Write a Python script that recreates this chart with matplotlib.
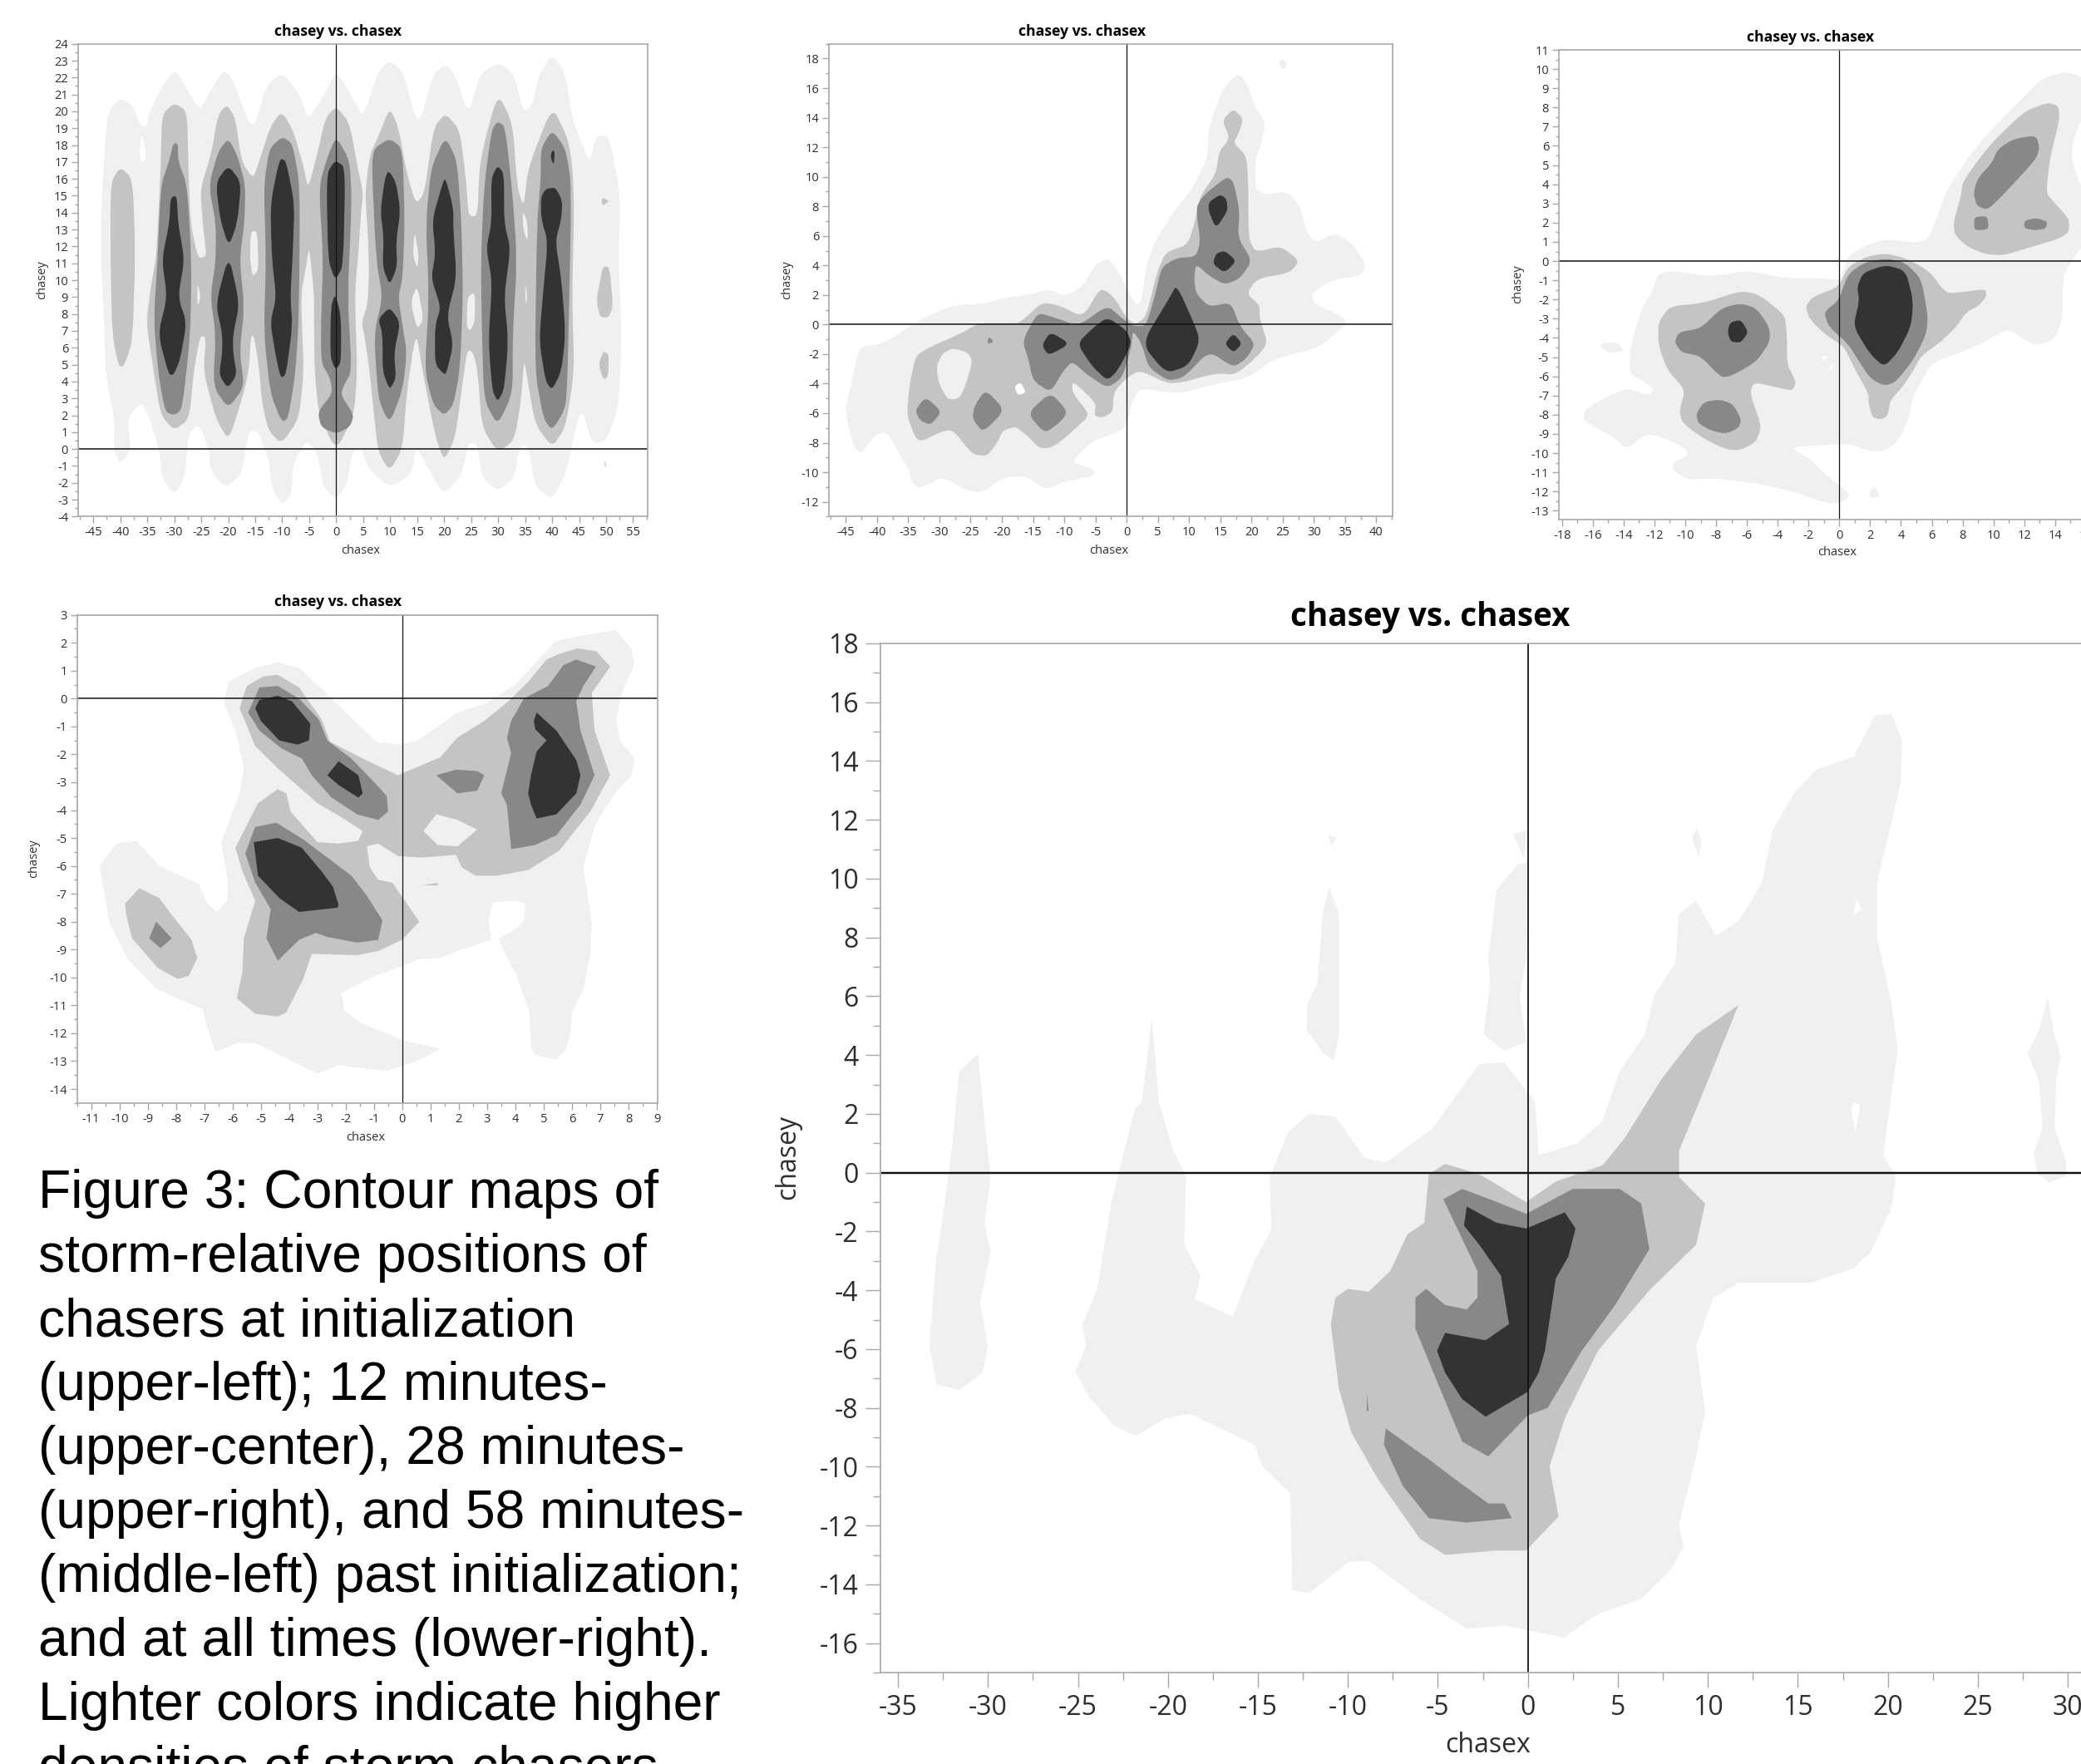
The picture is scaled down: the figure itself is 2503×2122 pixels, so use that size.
import matplotlib
matplotlib.use("Agg")
import matplotlib.pyplot as plt
from matplotlib.patches import PathPatch
from matplotlib.path import Path
from matplotlib.ticker import MultipleLocator

W, H = 2503, 2122
SHADE_A = "#f0f0f0"
SHADE_B = "#c4c4c4"
SHADE_C = "#888888"
SHADE_D = "#333333"
WHITE = "#ffffff"
FRAME = "#a8a8a8"
INK = "#2e2e2e"

CAPTION = [
    "Figure 3: Contour maps of",
    "storm-relative positions of",
    "chasers at initialization",
    "(upper-left); 12 minutes-",
    "(upper-center), 28 minutes-",
    "(upper-right), and 58 minutes-",
    "(middle-left) past initialization;",
    "and at all times (lower-right).",
    "Lighter colors indicate higher",
    "densities of storm chasers.",
]

# contour outlines, (chasex, chasey)
# panel 1: initialization
P1_A = [[(-40,20.8),(-37.8,20.4),(-36,19),(-35,19.2),(-34.6,20),(-32.2,21.5),(-29.9,22.5),(-28,21.5),(-25.2,20),(-23.2,21.3),(-20.7,22.5),(-19,21.8),(-16.2,19.3),(-15,19.2),(-13,21.5),(-10,22.3),(-6.9,21.1),(-5.2,19.5),(-2.4,20.9),(0,22.4),(2.9,20.9),(5,19.6),(7.8,22.4),(9.9,23),(12.3,22.4),(15.2,19),(18,22.2),(20.2,22.8),(22,22.2),(24.5,19.8),(26.6,22.2),(29.9,22.9),(33,22.2),(34.7,19.9),(36.4,20.4),(37.6,22.2),(40,23.4),(42.5,22.2),(43.7,19.6),(45.8,17.8),(47,17),(48.2,18.6),(50.6,18.5),(52.7,15),(52.3,11.2),(52.9,6.8),(52.3,2.4),(50,.5),(47.4,.3),(45.3,2.6),(42.5,-1.5),(40,-3),(36.8,-2.2),(35.6,.2),(34,.2),(33,-1.7),(29.9,-2.5),(27,-1.7),(26.2,.3),(24.5,.4),(23.3,-1.5),(20,-2.7),(18,-1.7),(14.8,.2),(14,-1.5),(9.9,-2.3),(5.8,-1.1),(4.6,.2),(2.9,-.2),(2.1,-2),(0,-3),(-2.4,-2.2),(-3.6,-.1),(-5.6,.5),(-8,-.9),(-8.3,-2.7),(-10,-3.3),(-11.9,-2.4),(-12.6,-.4),(-14.6,1.1),(-16.2,1.1),(-17.5,-1.5),(-20.5,-2.3),(-23.2,-1.3),(-23.6,0),(-25.4,1.5),(-27.4,.9),(-28,-1.7),(-30,-2.7),(-32.3,-1.7),(-32.8,0),(-34.6,1.8),(-36,2.8),(-38.7,1.8),(-38,0),(-40,-.9),(-41.3,0),(-41,1.8),(-42.7,4.2),(-43.1,8.4),(-43.7,12),(-43.1,17),(-42.3,20)]]
P1_A_HOLES = [[(-36,18.7),(-35.2,17.5),(-35.6,16.9),(-36.5,17.4)]]
P1_B = [
    [(-40,16.7),(-37.7,16),(-37.2,11.8),(-37.7,6.4),(-39.3,4.9),(-40.3,4.9),(-41.5,6.8),(-41.8,11.2),(-41.8,15.8)],
    [(-30,20.5),(-27.6,20),(-27.4,16.8),(-27,13.4),(-25.6,11.3),(-24,11.4),(-24.6,13),(-25.2,15.4),(-23.2,17.4),(-21.9,19.8),(-20.2,20.4),(-18.7,19.6),(-17.5,17),(-15.4,16),(-14.2,17.1),(-12.2,19.1),(-10.1,20),(-8,18.9),(-6,16.7),(-5.2,15.4),(-3.4,17.6),(-2,19.6),(0,20.3),(2.5,19.3),(4.2,16.3),(5,15.2),(4.6,14),(4.2,12),(3.5,9.4),(3.6,7.5),(3.9,4.6),(3.3,2),(0,-.1),(-3.2,2),(-4,4.6),(-4.1,7.5),(-4.1,9.2),(-5,12),(-5.5,11),(-6.5,9.2),(-6.3,7),(-6,4.6),(-6.9,1.8),(-10.1,.3),(-12.6,1.1),(-13.8,2.9),(-14.2,4.6),(-15.2,6.7),(-15.8,6.7),(-16.2,4.6),(-17.5,2.9),(-19.9,.5),(-22.3,1.8),(-24.6,4.6),(-24.1,6.6),(-25.2,6.7),(-26.4,4.6),(-27.2,1.8),(-30,1.1),(-32.5,2),(-33.8,4.6),(-35.2,7.5),(-34.2,9.9),(-33.4,11.2),(-33,13.4),(-32.5,16.7),(-32.3,19.8)],
    [(5.4,15.2),(6.2,17.4),(7.8,18.5),(9.9,20.2),(11.5,19.1),(13.1,16.3),(14.8,14.5),(16.4,15.2),(18,19),(20.2,19.9),(22.9,18.9),(24.1,15.8),(24.5,13.8),(26.2,13.8),(26.6,17.1),(29.9,21.1),(32.7,19.3),(33.5,15.6),(34.7,14.3),(35.6,16.7),(40,20.3),(42.8,18.5),(43.7,17),(44.1,14.3),(43.7,9),(44.1,4.6),(42.5,1.3),(40,.1),(36.8,1.5),(35.2,4.6),(34.8,5.2),(34.2,2.8),(33,.5),(29.9,-.2),(27,1.3),(26.2,4.6),(25.4,5.7),(24.3,5.9),(23.3,3.7),(22.1,.7),(20,-.7),(18.4,.7),(16,4.6),(14.8,7),(13.1,3.5),(12.3,0),(9.9,-1.3),(7.8,-.2),(7,2),(6.2,4.6),(5.2,6.8),(4.7,7.5),(5.8,8.5),(6.1,10.5),(5.9,12.5),(5.6,14)],
    [(49.4,10.8),(50.6,10.8),(51.3,8.5),(50.5,7.8),(48.9,7.8),(48.2,8.8),(48.9,10)],
    [(49.5,5.8),(50.5,5.6),(50.4,4.3),(49.5,4.1),(48.6,5)],
    [(49.2,14.9),(50.6,14.7),(49.3,14.4)],
    [(49.8,-.6),(50,-1.1),(49.7,-1)],
]
P1_B_HOLES = [
    [(-25.7,9.9),(-25.1,9),(-25.7,8.4)],
    [(-15.8,12.9),(-14.6,12.9),(-14.4,10.6),(-15.5,10.2),(-16,11.4)],
    [(14.5,12.9),(15.3,11.5),(15,10.7),(14.2,11.5)],
    [(15,9.7),(16.2,7.7),(15,7.1),(13.8,8.7)],
    [(24.3,9),(25.7,9.3),(25.7,7.6),(24.9,7),(24.2,7.2)],
    [(34.5,14.1),(35.4,13.5),(35.5,12.3),(34.7,12.9)],
    [(35,9.9),(35.4,9),(35.1,8.5)],
]
P1_C = [
    [(-30.2,18.1),(-29.3,18.1),(-29.3,17.1),(-27.6,15.6),(-26.8,11.2),(-27,6.8),(-28.5,2.4),(-29.9,2),(-31.7,2.2),(-33,4.6),(-33.8,7.7),(-33.1,11.2),(-32.5,15.6),(-30.9,17.1)],
    [(-20,18.4),(-18.3,17.4),(-16.8,15.6),(-17,13.4),(-17.9,11.2),(-17,8.4),(-17.9,5.7),(-17,3.7),(-20,2.4),(-22.8,3.7),(-22.3,6.8),(-23.3,9),(-22.3,11.2),(-22.3,13.4),(-23.6,15.6),(-21.9,17.6)],
    [(-10,18.5),(-8.1,18.1),(-6.7,15.6),(-6.9,8),(-7.5,4.6),(-8.9,1.8),(-10.1,1.6),(-12.2,3.3),(-13.4,6.8),(-13,11.2),(-13.4,15.6),(-12.4,17.8)],
    [(0,18.5),(2.5,17.1),(2.9,14.7),(2.1,9),(2.9,4.6),(1.3,3.7),(.9,3.2),(3.3,2),(2.5,1.3),(0,.9),(-2.8,1.3),(-3.4,2.2),(-.7,3.3),(-1.1,4.2),(-2.8,5.1),(-2.8,7.9),(-2.4,11.2),(-3.2,15.6),(-1.5,17.4)],
    [(9.9,18.4),(12.3,17.8),(12.7,13.4),(12.3,10.1),(11.5,9),(12.3,7.3),(13.1,5.7),(12.3,3.5),(9.9,1.5),(7.8,2.9),(7,6.8),(8.6,9),(7.4,11.2),(6.6,16.7),(7,17.8)],
    [(20.2,18.5),(22.4,17.1),(23.2,13.4),(23.5,9),(22.9,4.6),(21.7,2.6),(20,2),(18,2.6),(16.4,4.6),(17.2,9),(16.6,13.4),(17.6,16.7)],
    [(29.9,19.4),(31.3,19.1),(32.7,15),(33.5,11.2),(32.7,6.8),(32.7,3.3),(29.9,1.4),(27.4,2.9),(27,6.8),(26.8,11.2),(27.4,15.6),(28.8,18.9)],
    [(40,18.9),(42.5,17.8),(43.6,15.6),(42.9,4.6),(42.5,2.4),(40,1.1),(38.4,1.8),(36.8,4.6),(37.2,13.4),(37.9,16),(37.9,17.8)],
]
P1_D = [
    [(-30.1,15),(-29.5,14.9),(-29.3,13.4),(-28.1,11.2),(-29.3,9),(-27.7,7.5),(-28.9,5.3),(-30.1,4.4),(-31,4.4),(-33,6.8),(-31.3,9),(-32.3,11.2),(-30.9,13.4),(-30.7,14.8)],
    [(-20,16.8),(-17.6,15.8),(-18.3,13.4),(-19.9,12),(-21.5,13.6),(-22.3,15.8)],
    [(-19.9,11.5),(-17.9,8.6),(-19.1,6.8),(-19.1,5.7),(-18.4,4.4),(-20.1,3.6),(-21.7,4.4),(-21.1,5.7),(-21.1,6.8),(-22.3,8.6)],
    [(-10.5,17.2),(-9.3,17.1),(-7.7,14.5),(-8.1,11.2),(-8.5,9),(-8.1,7.3),(-9.3,4.4),(-10.3,4.2),(-11.3,5.7),(-12.2,7.5),(-11.1,9),(-11.9,11.2),(-12.2,14.5)],
    [(-.2,17.1),(1.7,16.7),(1.3,10.8),(-.2,10),(-1.5,11.2),(-1.8,16.3)],
    [(-.2,9.2),(.9,7.9),(.9,5.1),(-.2,4.7),(-1.1,5.5),(-1,8.4)],
    [(9.7,16.5),(11.1,15.8),(11.9,14.1),(11.1,12.3),(11.3,10.8),(9.9,9.7),(8.6,10.8),(8.8,12.5),(8.2,14.1),(9,16)],
    [(9.9,8.4),(11.9,7.5),(10.7,5.7),(11.1,4.2),(9.9,3.5),(8.6,4.6),(8.6,6.8),(7.8,7.7)],
    [(20.2,16.1),(21.7,14.3),(21.7,13),(22.3,10.1),(20.5,7.9),(21.7,6.2),(20.5,4.6),(20.1,4.4),(18.3,5),(18.3,7.3),(19.4,8.4),(17.6,10.1),(18.4,11.6),(17.8,13.6),(19.6,15.6)],
    [(29.9,16.8),(31.1,16.3),(31.1,13.4),(32.3,11.9),(31.1,9),(31.9,6.4),(31.1,3.5),(29.9,2.8),(28.9,3.5),(28.2,6.4),(28.9,9.9),(27.8,11.9),(28.8,13.4),(28.7,16)],
    [(40,17.7),(40.5,17.6),(40.3,16.8),(39.7,17.3)],
    [(38.8,15.4),(40.6,15.5),(41.9,14.7),(41.7,13.6),(40.6,12.3),(41.7,10.1),(42.5,6.8),(41.7,4.6),(40,3.5),(38.8,4),(37.6,6.4),(38.4,9.5),(39.2,12.3),(38,13.6),(37.9,14.9)],
]

# panel 2: 12 minutes
P2_A = [
    [(-45,-5.6),(-44.3,-4.4),(-43.2,-2.1),(-42.5,-1.5),(-39,-1.3),(-32.8,.4),(-27.9,1.3),(-23,1.4),(-19.5,1.8),(-16,2),(-12.5,2.4),(-9.8,1.9),(-7,2.6),(-4.9,4.1),(-2.8,4.5),(-.7,3.1),(.7,1.9),(1.7,1.3),(2.4,1.6),(3.1,3.9),(4.5,5.6),(7.7,7.7),(10.5,9.2),(12.9,11.2),(13.2,13.4),(15.3,15.9),(17.8,17),(19.2,16.4),(20.6,14.7),(22.2,13.7),(21.6,12.2),(20.6,11.2),(20.6,9.2),(22,8.8),(25.8,9),(27.9,7.9),(28.6,6.4),(30.3,5.5),(33.1,6.2),(35.9,5.6),(38.3,4.1),(37.6,3.3),(32.8,3),(29.6,2.1),(30,1.4),(35.2,.4),(34.8,-.1),(30.7,-1.6),(23.7,-2.3),(19.5,-3.6),(14.6,-4),(9.1,-4.6),(6.6,-4.6),(2.1,-4.3),(.7,-5.4),(.3,-6.4),(-.7,-7.2),(-5.6,-7.9),(-8.9,-9.3),(-5.1,-9.8),(-5.2,-10.2),(-7,-10.4),(-10.5,-10.7),(-12.9,-11.2),(-16,-10.3),(-19.5,-10.3),(-23.3,-11.4),(-25.8,-11.2),(-29.6,-10.3),(-33.1,-11.1),(-34.5,-10.7),(-34.8,-9.9),(-36.9,-8.4),(-38.3,-7.3),(-40.1,-7.4),(-42.5,-8.7),(-43.6,-8.4),(-44.7,-6.7)],
    [(24.3,17.7),(25,18),(25.8,17.6),(25,17.2)],
]
P2_B = [[(17.1,14.6),(18.7,13.9),(17.8,12.8),(17.1,12.3),(19.2,11.4),(19.5,9.4),(19.5,5.9),(20.6,4.9),(24.7,5.3),(27.7,4.3),(26.1,3.5),(20.9,3.1),(19.2,2.1),(21.3,1.3),(21.3,.4),(22.6,-1.3),(20.6,-2.3),(17.4,-3.4),(14.3,-3.3),(9.1,-3.9),(6.6,-4),(2.1,-3.1),(0,-3.6),(-2.1,-4.6),(-2.2,-5.9),(-3.8,-6.3),(-5.2,-6.2),(-4.9,-5.3),(-8.7,-3.8),(-8.7,-4.6),(-6.3,-5.9),(-6.3,-6.3),(-9.4,-7.5),(-11.8,-8.3),(-13.9,-8.4),(-16,-7.5),(-17.8,-6.9),(-19.9,-7.2),(-20.6,-7.9),(-22.3,-8.9),(-24.7,-8.8),(-27.9,-7.1),(-30,-7.3),(-32.8,-7.9),(-33.8,-7.7),(-35.2,-6.2),(-34.8,-4.1),(-33.8,-2.1),(-31.4,-1.5),(-26.5,-.6),(-23.7,.1),(-18.8,.1),(-17.1,.1),(-13.6,1.5),(-10.8,1.3),(-7,.5),(-4.2,2.5),(-2.1,1.9),(0,.4),(1.4,0),(3.1,.5),(4.9,3.6),(6.3,4.9),(9.8,5.4),(11.1,7.2),(11.8,8.7),(14.3,10.2),(14.8,11.7),(16,12.3),(16.4,12.8),(15.3,13.8)]]
P2_B_HOLES = [[(-27.9,-1.6),(-25.4,-1.9),(-24.7,-2.5),(-25.8,-4.1),(-26.8,-5),(-28.6,-5.1),(-30,-4.1),(-30.5,-2.9),(-29.6,-2)]]
P2_B_GAPS = [[(-18,-4.2),(-17,-3.9),(-16.1,-4.6),(-17.4,-4.8)]]
P2_C = [
    [(16,10),(17.1,9.7),(18.1,7.7),(17.8,5.9),(20.1,4.3),(18.1,3.1),(15.7,2.7),(13.2,3.3),(11.1,4.1),(10.8,3.1),(11.1,2.1),(13.2,1.2),(16.7,1.5),(18.1,-.1),(20.6,-1.3),(19.2,-2.3),(17.1,-2.9),(13.2,-1.8),(9.1,-3.6),(6.6,-3.8),(3.5,-2.9),(2.4,-1.3),(1,-.4),(.7,-1.6),(-.7,-3.6),(-3.1,-4.3),(-6.3,-3.4),(-8.7,-2.5),(-10.1,-3.1),(-12.2,-4.6),(-15,-3.8),(-15.7,-2.4),(-16.7,-1.1),(-14.3,.8),(-11.8,.5),(-7.7,-.1),(-3.1,1.3),(-.7,.4),(1,-.1),(3.1,-.1),(4.5,1.9),(5.6,3.9),(8,4.5),(11.1,4.6),(11.8,5.6),(11.1,7.9),(12.2,8.7)],
    [(-32.2,-4.9),(-29.6,-5.9),(-31.4,-6.8),(-33.1,-6.5),(-33.9,-5.8)],
    [(-22.6,-4.4),(-19.5,-5.8),(-23,-7.3),(-24.7,-6.4),(-24.4,-5.5)],
    [(-12.2,-4.6),(-9.6,-5.8),(-10.1,-6.4),(-13.1,-7.4),(-15.9,-6)],
    [(-22,-.8),(-21.3,-1.2),(-22.4,-1.3)],
]
P2_D = [
    [(15,8.8),(16,8.5),(16.2,7.7),(14.3,6.5),(13.1,7.7),(13.2,8.3)],
    [(15.7,5),(17.6,4.3),(15.7,3.5),(13.8,4.1),(14.3,4.8)],
    [(8,2.7),(11.5,-.6),(11.5,-1.4),(9.8,-2.8),(6.3,-3.3),(2.4,-1.3),(7,1.9)],
    [(-3.1,.5),(0,-.4),(.8,-1.3),(-1.4,-3.1),(-3.1,-3.8),(-5.6,-2.8),(-7.9,-1.3),(-5.6,-.3)],
    [(-12.2,-.5),(-9.1,-1.3),(-12.5,-2.1),(-13.6,-1.4)],
    [(17.1,-.6),(18.5,-1.3),(17.1,-1.9),(15.7,-1.3)],
]

# panel 3: 28 minutes
P3_A = [
    [(14.7,9.85),(15.7,9.65),(16.5,8.5),(15.7,7.4),(15.1,6.1),(15.1,5.2),(15.7,3.8),(17,3),(17,1.5),(15.7,.75),(14.5,-.7),(14.5,-3),(14,-4),(12.9,-4.4),(12,-4.1),(10.9,-3.5),(9,-4.4),(6,-5.3),(5.3,-6.3),(4.7,-7.2),(4.5,-8.2),(3.8,-9.4),(2.9,-9.9),(2,-9.9),(.5,-9.5),(-1.4,-9.6),(-3.2,-9.7),(-1.9,-10.3),(-.9,-11.1),(.8,-12.2),(.05,-12.6),(-.9,-12.6),(-3.4,-11.9),(-5.9,-11.5),(-8.4,-11.3),(-9.8,-11.4),(-10.8,-10.9),(-10.8,-10.5),(-9.8,-10.1),(-10,-9.7),(-12.4,-8.9),(-13.8,-9.8),(-14.6,-9.2),(-16.6,-8.3),(-16.6,-7.9),(-15.9,-7.4),(-13.8,-6.6),(-12.4,-7),(-12,-6.7),(-12.6,-6.3),(-13.6,-5.9),(-13.6,-4.6),(-12.9,-2.6),(-12.1,-1.5),(-11.8,-.7),(-10.9,-.5),(-8.4,-.8),(-5.9,-.5),(-3.4,-.9),(-.9,-.9),(.05,-1),(.5,.2),(1.5,.75),(3,1.15),(4.8,.95),(5.8,1.15),(6.3,2.2),(7,3.75),(8.8,5.9),(11,7.8),(13.2,9.55)],
    [(-15.6,-4.3),(-14.5,-4.2),(-13.9,-4.7),(-15,-4.8)],
    [(2.3,-11.7),(2.7,-12.3),(1.9,-12.3),(2,-12)],
]
P3_A_HOLES = [
    [(-1.1,-4.9),(-.7,-5),(-1.1,-5.2)],
    [(-.5,-5.3),(-.4,-5.7),(-.6,-5.5)],
]
P3_B = [
    [(13.5,8.25),(14.2,8.1),(14.3,7.4),(13.7,5.5),(13.4,3.55),(14,3),(14.9,2.2),(14.9,1.5),(14.2,1.15),(12.5,.75),(10.7,.3),(9.5,.35),(8.3,.75),(7.5,1.35),(7.4,2),(7.9,3.4),(8,4.15),(9.75,6.05),(12,7.8)],
    [(3,.4),(4.3,.15),(5.8,-.5),(6.9,-1.65),(7.6,-1.65),(9.5,-1.45),(9.55,-1.85),(9,-2.35),(8.25,-2.65),(7.5,-3.5),(6.5,-4.25),(5.3,-4.95),(4.8,-5.7),(4.15,-6.5),(3.3,-7.25),(3.15,-8),(2.8,-8.25),(2.15,-8.15),(1.9,-7.45),(1.9,-6.9),(1.05,-5.7),(.3,-4.45),(-.95,-3.8),(-1.95,-3),(-2.2,-2.35),(-1.7,-1.85),(-.05,-1.35),(.55,-.3),(1.8,.25)],
    [(-6.4,-1.55),(-5.2,-1.75),(-3.55,-2.8),(-3.4,-3.8),(-3.4,-5.35),(-2.8,-6.3),(-3.05,-6.75),(-3.95,-6.6),(-5.55,-6.3),(-5.8,-6.9),(-5.05,-8.6),(-5.4,-9.4),(-6.4,-9.85),(-7.4,-9.8),(-8.9,-9.2),(-10.15,-8.45),(-10.4,-7.85),(-10,-6.7),(-11.15,-5.7),(-11.75,-4.35),(-11.75,-3.2),(-11,-2.35),(-8.9,-2.2)],
]
P3_C = [
    [(12.75,6.55),(13,5.9),(12.75,5.3),(10.75,3.55),(9.6,2.65),(8.9,2.9),(8.7,3.55),(9,4.35),(9.9,5.1),(10.25,5.8),(11.25,6.35)],
    [(8.75,2.3),(9.6,2.35),(9.7,1.65),(8.75,1.6)],
    [(12,2.1),(12.75,2.25),(13.5,2.05),(13.4,1.7),(12.75,1.6),(12,1.7)],
    [(3,.15),(4.3,-.1),(5.3,-.9),(5.75,-2.8),(5.65,-3.8),(4.8,-5.15),(3.65,-6.3),(2.9,-6.5),(2,-6.1),(1.3,-5.25),(.55,-4.3),(-.7,-3.4),(-1,-2.65),(-.05,-2.05),(.55,-.7),(1.55,-.1)],
    [(-6.4,-2.2),(-5.4,-2.45),(-4.55,-3.4),(-4.5,-4.2),(-5.4,-5.25),(-7.05,-6),(-7.7,-6.05),(-9,-4.95),(-10.25,-4.75),(-10.7,-4.2),(-10.4,-3.7),(-9,-3.5),(-7.65,-2.45)],
    [(-7.8,-7.2),(-6.9,-7.45),(-6.35,-8.25),(-6.55,-8.7),(-7.4,-9),(-8.4,-8.8),(-9.15,-8.45),(-9.3,-7.95),(-8.8,-7.35)],
]
P3_D = [
    [(3,-.2),(4.3,-.5),(4.8,-2.05),(4.65,-3.4),(3.8,-4.75),(2.9,-5.5),(2,-4.85),(.9,-3.4),(1.3,-2.05),(1.15,-1.35),(1.55,-.6)],
    [(-6.4,-3.05),(-5.9,-3.7),(-6.4,-4.25),(-7.05,-4.2),(-7.25,-3.7),(-7.1,-3.2)],
]

# panel 4: 58 minutes
P4_A = [[(-4.4,1.3),(-3.65,1.1),(-2.7,.2),(-1.8,-.7),(-.9,-1.55),(-.05,-1.65),(.55,-1.5),(1.95,-.5),(2.9,-.2),(4,.5),(5.4,2.05),(6.3,2.25),(7.55,2.45),(8.1,1.8),(8.2,1.2),(7.8,.3),(7.55,-.75),(7.7,-1.5),(8.2,-2.15),(8.1,-2.75),(7.6,-3.3),(7.1,-4.05),(6.8,-4.6),(6.4,-6.05),(6.7,-8.05),(6.65,-9.15),(6.4,-10.45),(6,-11.25),(5.95,-12),(5.8,-12.55),(5.45,-12.95),(4.75,-12.8),(4.55,-12.55),(4.5,-11.25),(4.05,-9.95),(3.7,-9.25),(3.4,-8.6),(4.05,-8.25),(4.3,-7.95),(4.35,-7.35),(4,-7.25),(3.2,-7.3),(3.05,-7.95),(3.15,-8.65),(2.1,-9),(1.35,-9.3),(.55,-9.35),(0,-9.6),(-1,-9.95),(-2.15,-10.55),(-2.05,-11.2),(-1.45,-11.65),(-.55,-12),(0,-12.25),(1.35,-12.55),(.5,-13),(-.55,-13.35),(-2.25,-13.15),(-3,-13.45),(-4.6,-12.65),(-5.2,-12.35),(-5.8,-12.35),(-6.6,-12.65),(-6.9,-11.8),(-7.05,-11.15),(-7.85,-10.8),(-8.7,-10.4),(-9.7,-9.35),(-10.35,-8.05),(-10.55,-6.85),(-10.7,-6),(-10.1,-5.2),(-9.4,-5.1),(-8.6,-6),(-7.2,-6.65),(-6.9,-7.35),(-6.55,-7.65),(-6.2,-7.25),(-6.15,-6.65),(-6.4,-5.15),(-5.75,-3.4),(-5.6,-2.45),(-5.9,-1.15),(-6.3,-.15),(-6.15,.6),(-5.2,1.1)]]
P4_B = [
    [(-4.9,.8),(-4.4,.85),(-3.65,.4),(-2.85,-.75),(-2.55,-1.55),(-1.3,-2.2),(-.15,-2.75),(1.35,-2.1),(1.95,-1.4),(2.9,-.8),(3.75,-.1),(4.45,.6),(5.1,1.4),(5.55,1.6),(6.2,1.8),(6.85,1.7),(7.35,1.15),(6.7,.2),(6.8,-1.15),(7.35,-2.75),(6.65,-4.05),(5.55,-5.45),(4.45,-6.15),(3.35,-6.35),(2.6,-6.35),(2.1,-6.05),(1.9,-5.6),(.7,-5.7),(-.15,-5.65),(-.85,-5.2),(-1.25,-5.3),(-1.15,-6.05),(-.85,-6.5),(-.35,-6.6),(.6,-8),(0,-8.65),(-.85,-9.05),(-1.6,-9.2),(-3.2,-9.15),(-3.5,-10.05),(-4.1,-11.25),(-4.4,-11.4),(-5.2,-11.3),(-5.85,-10.75),(-5.65,-9.8),(-5.6,-8.6),(-5.2,-7.25),(-5.65,-6.2),(-5.9,-5.35),(-5.1,-3.75),(-4.4,-3.25),(-4.1,-3.4),(-3.95,-4.05),(-3,-5.15),(-2.25,-5.2),(-1.55,-5.1),(-1.4,-4.75),(-2,-4.35),(-3,-3.75),(-4.4,-2.5),(-5.2,-1.7),(-5.75,-.35),(-5.5,.45)],
    [(-9.3,-6.8),(-8.6,-7.15),(-8,-7.95),(-7.45,-8.65),(-7.25,-9.3),(-7.55,-9.95),(-7.95,-10.05),(-8.65,-9.65),(-9.55,-8.6),(-9.75,-7.8),(-9.8,-7.35)],
    [(.7,-6.7),(1.25,-6.6),(1.25,-6.7)],
]
P4_B_HOLES = [[(1.2,-4.15),(1.95,-4.35),(2.65,-4.7),(1.95,-5.3),(1.25,-5.25),(.75,-4.75)]]
P4_C = [
    [(-5.05,.4),(-4.4,.45),(-3.65,0),(-2.95,-.75),(-2.65,-1.5),(-1.8,-2.15),(-.85,-3.15),(-.55,-3.5),(-.5,-4.05),(-.85,-4.35),(-1.6,-4.15),(-2.5,-3.55),(-3.2,-2.75),(-3.55,-2.15),(-4.25,-1.8),(-5.05,-1.15),(-5.45,-.5)],
    [(-4.45,-4.45),(-3.5,-5.05),(-1.8,-6.35),(-1.3,-7),(-.7,-7.95),(-.85,-8.65),(-1.6,-8.75),(-2.65,-8.55),(-3.05,-8.4),(-3.65,-8.65),(-4.4,-9.4),(-4.8,-8.6),(-4.65,-7.55),(-5.2,-6.6),(-5.55,-5.55),(-5.2,-4.6)],
    [(6.15,1.4),(6.85,1.15),(6.4,.45),(6.15,-.1),(6.3,-1.15),(6.8,-2.75),(6.3,-3.8),(5.45,-4.9),(4.7,-5.25),(3.85,-5.4),(3.7,-3.8),(3.5,-3.4),(3.85,-1.95),(3.7,-1.4),(3.85,-.8),(4.3,0),(5.15,.45),(5.7,1.2)],
    [(1.9,-2.55),(2.65,-2.6),(2.9,-2.75),(2.65,-3.3),(1.95,-3.4),(1.2,-2.75)],
    [(-8.7,-8),(-8.15,-8.6),(-8.55,-8.95),(-8.95,-8.6)],
]
P4_D = [
    [(-4.4,.1),(-3.9,-.1),(-3.25,-.9),(-3.3,-1.5),(-3.7,-1.65),(-4.35,-1.5),(-5,-.8),(-5.2,-.35),(-5.05,-.05)],
    [(-2.25,-2.25),(-1.55,-2.75),(-1.4,-3.4),(-1.55,-3.55),(-2.25,-3.1),(-2.65,-2.75)],
    [(-4.4,-5),(-3.55,-5.35),(-2.85,-6.2),(-2.45,-6.75),(-2.25,-7.4),(-2.3,-7.5),(-3.65,-7.65),(-4.35,-7.15),(-5.1,-6.35),(-5.25,-5.15)],
    [(4.75,-.5),(5.45,-1.15),(6.15,-2.2),(6.3,-2.75),(6.15,-3.4),(5.45,-4.15),(4.75,-4.3),(4.55,-3.8),(4.45,-3.4),(4.55,-2.75),(4.75,-1.9),(5.1,-1.5),(4.7,-1.1),(4.65,-.8)],
]

# panel 5: all times
P5_A = [
    [(19.3,15.55),(20.2,15.6),(20.8,14.7),(20.7,13.2),(19.4,9.85),(19.4,8.05),(20.2,5.75),(20.55,4.2),(20.2,2.65),(19.75,.6),(20.45,-.15),(20.2,-1.2),(19.05,-2.7),(18.1,-3.25),(15.7,-3.75),(11.7,-3.75),(10.3,-4.25),(9.35,-5.9),(9.85,-8.1),(9.35,-9.65),(8.4,-11.95),(8.65,-12.7),(7.95,-13.5),(6.3,-14.5),(3.9,-15),(2,-15.8),(-.1,-15.55),(-1.3,-15.4),(-3.4,-15.5),(-6,-14.5),(-8.85,-13.2),(-10,-13.25),(-12.15,-14.3),(-13.1,-14.2),(-13.2,-10.9),(-14.75,-10),(-15.2,-9.25),(-18.75,-8.2),(-20.15,-8.35),(-21.8,-8.95),(-23,-8.6),(-24.4,-7.6),(-25.15,-6.75),(-24.55,-5.9),(-24.75,-5.15),(-23.95,-4),(-23.15,-1.05),(-22.7,.1),(-21.85,2.15),(-21.45,2.4),(-20.9,5.25),(-20.5,2.4),(-19.7,.75),(-19,-.15),(-19.1,-2.45),(-18.2,-3.5),(-18.5,-4.3),(-16.4,-4.9),(-15.2,-3),(-14.25,-1.95),(-14.35,-.15),(-13.3,1.4),(-12.15,2),(-10.7,1.9),(-9.05,.5),(-7.9,.35),(-5.3,1.5),(-2.7,3.7),(-1.3,3.75),(.4,2.4),(.6,.6),(2.75,1),(4.15,1.75),(5.1,3.45),(6.5,4.7),(7,6),(8.2,7.15),(8.4,8.8),(9.35,9.25),(10.45,8.05),(11.7,8.55),(13,9.85),(13.6,11.65),(14.8,12.9),(16,13.7),(18.1,14.15)],
    [(-30.55,4.05),(-30.3,2.4),(-29.85,-.15),(-30.2,-1.7),(-29.85,-2.7),(-30.45,-4.4),(-30,-5.9),(-30.3,-6.8),(-31.6,-7.4),(-32.85,-7.2),(-33.25,-5.9),(-32.9,-3),(-32.55,-1.7),(-32,.85),(-31.6,3.45)],
    [(-11.05,9.7),(-10.5,8.8),(-10.5,4.7),(-10.8,3.8),(-11.4,4.1),(-12.3,4.85),(-12.25,5.75),(-11.7,6.4),(-11.4,8.8)],
    [(-.55,10.5),(0,10.55),(-.1,7.3),(-.45,6),(-.1,4.45),(-1.3,4.15),(-2.45,4.7),(-2.1,6.4),(-2.2,7.3),(-1.75,9.6)],
    [(-.8,11.5),(-.1,11.65),(-.2,10.65)],
    [(-11.05,11.45),(-10.6,11.4),(-10.95,11.1)],
    [(9.4,11.7),(9.65,11.25),(9.5,10.75),(9.1,11.4)],
    [(28.9,5.95),(29.2,4.83),(29.6,3.93),(29.35,3.13),(29.27,1.53),(29.9,.4),(29.9,-.12),(28.95,-.34),(28.35,-.03),(28.1,.68),(28.6,1.49),(28.4,3.13),(27.75,4.07),(28.4,4.83)],
]
P5_A_HOLES = [
    [(18.25,9.35),(18.55,8.95),(18.1,8.75)],
    [(18.1,2.4),(18.45,2.3),(18.2,1.4),(17.95,2.15)],
]
P5_B = [[(11.7,5.7),(10.05,3.2),(8.4,.75),(8.4,-.15),(9.85,-1.05),(9.35,-2.45),(6.75,-4),(3.9,-6.05),(2.05,-8.35),(1.2,-10),(1.7,-11.7),(-.1,-12.85),(-1.75,-12.85),(-4.6,-13),(-6,-12.45),(-8.35,-10.4),(-9.8,-8.85),(-10.5,-7.35),(-10.95,-5.15),(-10.7,-4.25),(-10,-3.95),(-8.85,-4.05),(-7.65,-3.35),(-6.7,-2.1),(-5.75,-1.7),(-5.5,-.05),(-4.6,.3),(-2.7,-.05),(-.1,-1),(1.55,-.3),(4.15,.25),(5.35,1.15),(7.45,3.2),(9.35,4.7)]]
P5_C = [
    [(5.1,-.55),(6.3,-1.05),(6.75,-2.6),(4.85,-4.5),(3,-6.05),(1.1,-8),(0,-8.25),(-2.2,-9.65),(-3.65,-9.15),(-5.05,-7.1),(-6.25,-5.3),(-6.25,-4.25),(-5.65,-3.95),(-4.6,-4.5),(-3.4,-4.65),(-2.8,-4.25),(-2.8,-3.35),(-4.7,-.9),(-3.65,-.55),(-1.5,-1.05),(-.1,-1.4),(2.5,-.55)],
    [(-7.9,-8.7),(-5.5,-9.75),(-4.1,-10.4),(-2.2,-11.25),(-1.3,-11.25),(-.9,-11.75),(-3.4,-11.9),(-5.5,-11.75),(-6.95,-10.65),(-8,-9.25)],
    [(-8.95,-7.5),(-8.85,-8.1),(-8.95,-8.1)],
]
P5_D = [[(-3.4,-1.15),(-1.75,-1.7),(-.1,-1.9),(2.05,-1.35),(2.65,-1.9),(2.25,-2.85),(1.55,-3.6),(.95,-6.05),(.6,-6.8),(0,-7.45),(-2.35,-8.3),(-3.65,-7.7),(-4.6,-6.8),(-5.05,-6.05),(-4.6,-5.45),(-2.35,-5.7),(-1.05,-5.15),(-1.5,-3.5),(-2.7,-2.45),(-3.55,-1.8)]]


def outline(verts, smooth):
    # smooth: round each corner, the upper panels have no hard vertices
    if not smooth:
        return Path(list(verts) + [verts[0]], closed=True)
    n = len(verts)
    frac = 0.33
    pts, codes = [], []
    for i in range(n):
        x, y = verts[i]
        px, py = verts[i - 1]
        nx, ny = verts[(i + 1) % n]
        pts.append((x + (px - x) * frac, y + (py - y) * frac))
        codes.append(Path.LINETO if i else Path.MOVETO)
        pts += [(x, y), (x + (nx - x) * frac, y + (ny - y) * frac)]
        codes += [Path.CURVE3, Path.CURVE3]
    pts.append(pts[0])
    codes.append(Path.LINETO)
    return Path(pts, codes)


def panel(box, xlim, ylim, xstep, ystep, layers, smooth, size, tick, title_at, xlabel_at, ylabel_at):
    left, top, right, bottom = box
    fig = plt.gcf()
    ax = fig.add_axes([left / W, 1 - bottom / H, (right - left) / W, (bottom - top) / H])
    for color, polys in layers:
        for verts in polys:
            ax.add_patch(PathPatch(outline(verts, smooth), facecolor=color, edgecolor="none", linewidth=0))
    ax.axhline(0, color="#111111", linewidth=max(1.1, size / 13))
    ax.axvline(0, color="#111111", linewidth=max(0.9, size / 18))
    ax.set_xlim(*xlim)
    ax.set_ylim(*ylim)
    ax.xaxis.set_major_locator(MultipleLocator(xstep))
    ax.xaxis.set_minor_locator(MultipleLocator(xstep / 2))
    ax.yaxis.set_major_locator(MultipleLocator(ystep))
    ax.yaxis.set_minor_locator(MultipleLocator(ystep / 2))
    ax.tick_params(which="major", length=tick, width=1, color=FRAME, labelsize=size, labelcolor=INK, pad=size * 0.25)
    ax.tick_params(which="minor", length=tick / 2, width=1, color=FRAME)
    for side in ax.spines.values():
        side.set_color(FRAME)
        side.set_linewidth(1.2)
    fig.text(title_at[0] / W, 1 - title_at[1] / H, "chasey vs. chasex", fontsize=size * 1.21,
             fontweight="bold", color="black", ha="center", va="center")
    fig.text(xlabel_at[0] / W, 1 - xlabel_at[1] / H, "chasex", fontsize=size, color=INK, ha="center", va="center")
    fig.text(ylabel_at[0] / W, 1 - ylabel_at[1] / H, "chasey", fontsize=size, color=INK, ha="center", va="center",
             rotation=90)


def main():
    plt.rcParams["font.family"] = ["Open Sans", "DejaVu Sans"]
    plt.rcParams["axes.unicode_minus"] = False
    fig = plt.figure(figsize=(W / 100, H / 100), dpi=100, facecolor="white")

    panel((94, 52.7, 779, 621.4), (-47.8, 57.7), (-4, 24), 5, 1,
          [(SHADE_A, P1_A), (WHITE, P1_A_HOLES), (SHADE_B, P1_B), (SHADE_A, P1_B_HOLES), (SHADE_C, P1_C), (SHADE_D, P1_D)],
          True, 10.5, 6, (406.6, 38), (434, 662), (51, 337))
    panel((997, 52.7, 1675, 621.4), (-47.7, 42.6), (-13, 19), 5, 2,
          [(SHADE_A, P2_A), (SHADE_B, P2_B), (SHADE_A, P2_B_HOLES), (WHITE, P2_B_GAPS), (SHADE_C, P2_C), (SHADE_D, P2_D)],
          True, 10.5, 6, (1302, 38), (1334, 662), (947, 337))
    panel((1875, 60, 2546, 625), (-18.2, 18), (-13.46, 11), 2, 1,
          [(SHADE_A, P3_A), (WHITE, P3_A_HOLES), (SHADE_B, P3_B), (SHADE_C, P3_C), (SHADE_D, P3_D)],
          True, 10.5, 6, (2178, 45.5), (2210, 665), (1826, 341.5))
    panel((92.6, 739.7, 791.4, 1326.8), (-11.5, 9.04), (-14.5, 3), 1, 1,
          [(SHADE_A, P4_A), (SHADE_B, P4_B), (SHADE_A, P4_B_HOLES), (SHADE_C, P4_C), (SHADE_D, P4_D)],
          False, 10.5, 6, (407, 724), (440, 1368), (41, 1033))
    panel((1058.5, 774, 2552, 2012), (-36, 33), (-17, 18), 5, 2,
          [(SHADE_A, P5_A), (WHITE, P5_A_HOLES), (SHADE_B, P5_B), (SHADE_C, P5_C), (SHADE_D, P5_D)],
          False, 23, 13, (1720, 743), (1790, 2099), (948, 1392))

    for i, line in enumerate(CAPTION):
        fig.text(46 / W, 1 - (1453 + 77 * i) / H, line, fontsize=46.2, family="Liberation Sans",
                 color="black", ha="left", va="baseline")

    fig.savefig("out.png", dpi=100, facecolor="white")


if __name__ == "__main__":
    main()
